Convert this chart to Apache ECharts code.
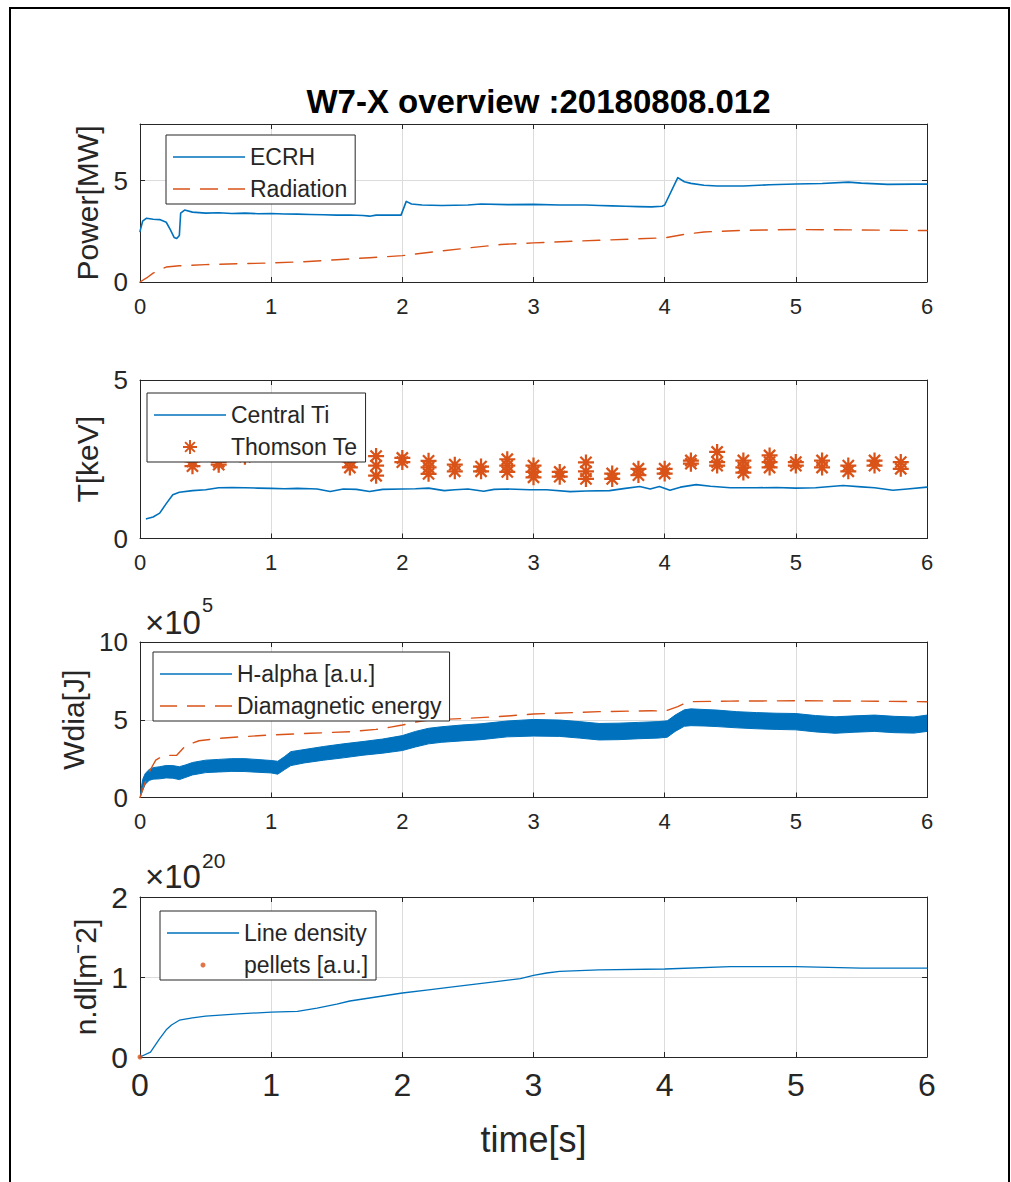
<!DOCTYPE html>
<html>
<head>
<meta charset="utf-8">
<script src="https://cdn.jsdelivr.net/npm/echarts@6/dist/echarts.min.js"></script>
<style>
html,body{margin:0;padding:0;background:#fff;}
#c{width:1011px;height:1182px;}
</style>
</head>
<body>
<div id="c"></div>
<script>
// ---------- data ----------
const titleText = 'W7-X overview :20180808.012';
const xTickLabels = [0, 1, 2, 3, 4, 5, 6];

// Panel 1: Power [MW]  ([time s, value])
const ecrh = [[0,2.5],[0.02,3.0],[0.05,3.15],[0.1,3.1],[0.15,3.08],[0.2,2.95],[0.23,2.6],[0.26,2.2],[0.28,2.15],[0.3,2.3],[0.31,3.4],[0.34,3.55],[0.4,3.45],[0.5,3.4],[0.6,3.42],[0.7,3.38],[0.8,3.4],[0.9,3.37],[1.0,3.38],[1.1,3.36],[1.2,3.35],[1.3,3.33],[1.4,3.32],[1.5,3.3],[1.6,3.31],[1.7,3.28],[1.75,3.25],[1.8,3.3],[1.9,3.3],[1.99,3.3],[2.03,3.98],[2.07,3.85],[2.15,3.8],[2.3,3.78],[2.5,3.8],[2.6,3.85],[2.8,3.82],[3.0,3.83],[3.2,3.8],[3.4,3.8],[3.5,3.78],[3.6,3.76],[3.7,3.74],[3.8,3.72],[3.9,3.71],[3.98,3.74],[4.0,3.8],[4.1,5.15],[4.15,4.95],[4.2,4.87],[4.3,4.78],[4.4,4.74],[4.6,4.74],[4.8,4.8],[5.0,4.84],[5.2,4.86],[5.4,4.93],[5.5,4.88],[5.7,4.82],[5.9,4.83],[6.0,4.83]];
const radiation = [[0,0],[0.05,0.2],[0.1,0.44],[0.2,0.74],[0.3,0.8],[0.5,0.86],[0.75,0.9],[1.0,0.94],[1.25,1.0],[1.5,1.1],[1.75,1.2],[2.0,1.3],[2.25,1.5],[2.5,1.68],[2.75,1.85],[3.0,1.93],[3.25,2.0],[3.5,2.06],[3.75,2.12],[4.0,2.18],[4.15,2.35],[4.3,2.47],[4.6,2.55],[5.0,2.59],[5.5,2.57],[6.0,2.54]];

// Panel 2: T [keV]
const centralTi = [[0.05,0.62],[0.1,0.68],[0.15,0.8],[0.2,1.1],[0.25,1.38],[0.3,1.46],[0.4,1.51],[0.5,1.54],[0.6,1.6],[0.7,1.61],[0.8,1.6],[0.9,1.59],[1.0,1.58],[1.1,1.57],[1.2,1.58],[1.3,1.57],[1.35,1.56],[1.45,1.48],[1.55,1.56],[1.65,1.55],[1.75,1.48],[1.85,1.55],[2.0,1.56],[2.1,1.57],[2.2,1.59],[2.32,1.51],[2.4,1.54],[2.5,1.56],[2.62,1.49],[2.7,1.55],[2.8,1.56],[2.97,1.54],[3.1,1.54],[3.28,1.48],[3.4,1.5],[3.58,1.51],[3.7,1.58],[3.81,1.64],[3.89,1.56],[3.96,1.64],[4.04,1.52],[4.12,1.62],[4.24,1.7],[4.35,1.65],[4.5,1.6],[4.7,1.6],[4.85,1.61],[5.0,1.59],[5.15,1.6],[5.36,1.67],[5.5,1.63],[5.6,1.6],[5.74,1.52],[5.85,1.56],[6.0,1.62]];
const thomsonTe = [[0.4,2.43],[0.4,2.28],[0.6,2.42],[0.6,2.33],[0.8,2.58],[1.6,2.43],[1.6,2.24],[1.8,2.6],[1.8,2.3],[1.8,1.98],[2.0,2.54],[2.0,2.41],[2.2,2.45],[2.2,2.24],[2.2,2.04],[2.4,2.33],[2.4,2.12],[2.6,2.27],[2.6,2.12],[2.8,2.5],[2.8,2.3],[2.8,2.1],[3.0,2.3],[3.0,2.1],[3.0,1.93],[3.2,2.1],[3.2,1.95],[3.4,2.4],[3.4,2.12],[3.4,1.88],[3.6,2.05],[3.6,1.88],[3.8,2.2],[3.8,2.0],[4.0,2.2],[4.0,2.05],[4.2,2.46],[4.2,2.36],[4.4,2.73],[4.4,2.41],[4.4,2.3],[4.6,2.46],[4.6,2.24],[4.6,2.08],[4.8,2.62],[4.8,2.41],[4.8,2.24],[5.0,2.41],[5.0,2.3],[5.2,2.46],[5.2,2.24],[5.4,2.3],[5.4,2.12],[5.6,2.46],[5.6,2.3],[5.8,2.41],[5.8,2.2]];

// Panel 3: Wdia [J], values in units of 1e5.  H-alpha is a noisy band: lower / upper envelope
const hAlphaT     = [0,0.02,0.04,0.07,0.1,0.15,0.2,0.25,0.3,0.35,0.4,0.5,0.6,0.7,0.8,0.9,1.0,1.05,1.1,1.15,1.25,1.4,1.55,1.7,1.85,2.0,2.1,2.2,2.3,2.45,2.6,2.8,3.0,3.2,3.35,3.5,3.65,3.8,3.95,4.02,4.08,4.15,4.2,4.3,4.4,4.55,4.7,4.85,5.0,5.15,5.3,5.45,5.6,5.75,5.9,6.0];
const hAlphaLower = [0,0.45,0.85,1.1,1.18,1.2,1.26,1.24,1.15,1.3,1.45,1.6,1.64,1.68,1.67,1.62,1.58,1.5,1.78,2.05,2.22,2.4,2.55,2.72,2.85,3.02,3.25,3.45,3.55,3.64,3.72,3.9,3.95,3.93,3.82,3.7,3.72,3.78,3.82,3.88,4.25,4.58,4.62,4.6,4.56,4.48,4.42,4.38,4.35,4.22,4.13,4.2,4.25,4.17,4.14,4.25];
const hAlphaUpper = [0.05,1.15,1.55,1.8,1.92,1.98,2.06,2.05,1.98,2.1,2.25,2.4,2.45,2.5,2.5,2.44,2.38,2.33,2.62,2.95,3.08,3.28,3.45,3.6,3.76,3.98,4.25,4.45,4.55,4.66,4.74,4.92,5.02,4.98,4.88,4.76,4.78,4.83,4.88,4.93,5.3,5.64,5.7,5.66,5.62,5.52,5.46,5.42,5.4,5.27,5.19,5.25,5.3,5.22,5.18,5.3];
const diamagnetic = [[0,0],[0.04,1.0],[0.08,1.8],[0.12,2.4],[0.18,2.7],[0.28,2.72],[0.35,3.35],[0.45,3.65],[0.6,3.8],[0.8,3.92],[1.0,4.02],[1.3,4.13],[1.6,4.23],[1.8,4.38],[1.9,4.51],[2.0,4.66],[2.1,4.85],[2.2,4.98],[2.5,5.09],[2.8,5.24],[3.0,5.37],[3.5,5.52],[3.9,5.58],[4.0,5.55],[4.1,5.84],[4.18,6.16],[4.5,6.2],[5.0,6.22],[5.5,6.2],[6.0,6.16]];

// Panel 4: n.dl [m^-2], values in units of 1e20
const lineDensity = [[0,0],[0.08,0.06],[0.15,0.23],[0.2,0.34],[0.24,0.4],[0.3,0.46],[0.4,0.49],[0.5,0.51],[0.75,0.54],[1.0,0.56],[1.2,0.57],[1.35,0.61],[1.5,0.66],[1.6,0.7],[1.8,0.75],[2.0,0.8],[2.2,0.84],[2.4,0.88],[2.7,0.94],[2.9,0.98],[3.0,1.02],[3.1,1.05],[3.2,1.07],[3.5,1.09],[4.0,1.1],[4.5,1.13],[5.0,1.13],[5.5,1.11],[6.0,1.11]];
const pellets = [[0,0]];

// axis ranges / ticks
const yMax = [7.8, 5, 10, 2];
const yInterval = [5, 5, 5, 1];
const yNames = ['Power[MW]', 'T[keV]', 'Wdia[J]', 'n.dl[m\u207B2]'];
const xName = 'time[s]';
const exponents = ['', '', '5', '20'];

// ---------- styling ----------
const FONT = "'Liberation Sans', Arial, Helvetica, sans-serif";
const BLUE = '#0072BD', ORANGE = '#D95319', INK = '#262626', GRID = '#dcdcdc';
const DASH = [17, 11];
const ASTER = 'path://M8.6,0H11.4V20H8.6Z M0,8.6H20V11.4H0Z M4.0,2.0L18.0,16.0L16.0,18.0L2.0,4.0Z M16.0,2.0L18.0,4.0L4.0,18.0L2.0,16.0Z';
const ICON_SOLID = 'path://M0,0H72V1.6H0Z';
const ICON_DASH = 'path://M0,0H17V1.5H0Z M27,0H45V1.5H27Z M55,0H72V1.5H55Z';

const grids = [
  {left:140, top:124, width:787, height:158},
  {left:140, top:380, width:787, height:158.5},
  {left:140, top:642, width:787, height:155.5},
  {left:140, top:897, width:787, height:160}
];

const xAxes = [], yAxes = [];
grids.forEach((g, i) => {
  const big = i === 3;
  xAxes.push({
    type:'value', gridIndex:i, min:0, max:6, interval:1, position:'bottom',
    axisLine:{show:true, onZero:false, lineStyle:{color:INK, width:1}},
    axisTick:{show:true, inside:true, length:5, lineStyle:{color:INK}},
    axisLabel:{show:true, color:INK, fontFamily:FONT, fontSize: big ? 32 : 22, margin: big ? 12 : 13,
      formatter: v => xTickLabels.indexOf(v) >= 0 ? String(v) : ''},
    splitLine:{show:true, lineStyle:{color:GRID, width:1}},
    name: big ? xName : '', nameLocation:'middle', nameGap: 64,
    nameTextStyle:{color:INK, fontFamily:FONT, fontSize:36}
  });
  xAxes.push({
    type:'value', gridIndex:i, min:0, max:6, interval:1, position:'top',
    axisLine:{show:true, onZero:false, lineStyle:{color:INK, width:1}},
    axisTick:{show:true, inside:true, length:5, lineStyle:{color:INK}},
    axisLabel:{show:false}, splitLine:{show:false}
  });
  yAxes.push({
    type:'value', gridIndex:i, min:0, max:yMax[i], interval:yInterval[i], position:'left',
    axisLine:{show:true, onZero:false, lineStyle:{color:INK, width:1}},
    axisTick:{show:true, inside:true, length:5, lineStyle:{color:INK}},
    axisLabel:{show:true, color:INK, fontFamily:FONT, fontSize: big ? 30 : 26, margin:12,
      showMaxLabel: yMax[i] % yInterval[i] === 0,
      formatter: v => (Math.abs(v / yInterval[i] - Math.round(v / yInterval[i])) < 1e-6) ? String(v) : ''},
    splitLine:{show:true, lineStyle:{color:GRID, width:1}},
    name: yNames[i], nameLocation:'middle', nameGap: 38,
    nameTextStyle:{color:INK, fontFamily:FONT, fontSize:30}
  });
  yAxes.push({
    type:'value', gridIndex:i, min:0, max:yMax[i], interval:yInterval[i], position:'right',
    axisLine:{show:true, onZero:false, lineStyle:{color:INK, width:1}},
    axisTick:{show:true, inside:true, length:5, lineStyle:{color:INK}},
    axisLabel:{show:false}, splitLine:{show:false}
  });
});

function lineSeries(name, data, panel, color, width, dashed) {
  return {
    name, type:'line', data, xAxisIndex: panel*2, yAxisIndex: panel*2,
    symbol:'none', smooth:false, animation:false, z:3,
    lineStyle:{color, width, type: dashed ? DASH : 'solid', cap:'round', join:'round'},
    itemStyle:{color}
  };
}

// band series for the noisy H-alpha signal (polygon between envelopes, via axis scales)
const hAlphaData = hAlphaT.map((t, k) => [t, hAlphaLower[k], hAlphaUpper[k]]);
const hAlphaSeries = {
  name:'H-alpha [a.u.]', type:'custom', xAxisIndex:4, yAxisIndex:4, z:3, animation:false,
  data: hAlphaData, encode:{x:0, y:[1, 2]},
  itemStyle:{color:BLUE},
  renderItem: (params, api) => {
    if (params.dataIndex !== 0) return null;
    const n = hAlphaData.length;
    const top = [], bot = [];
    for (let k = 0; k < n; k++) {
      top.push(api.coord([api.value(0, k), api.value(2, k)]));
      bot.push(api.coord([api.value(0, k), api.value(1, k)]));
    }
    const pts = top.concat(bot.reverse());
    const cs = params.coordSys;
    return {
      type:'polygon', shape:{points:pts},
      clipPath:{type:'rect', shape:{x:cs.x, y:cs.y, width:cs.width, height:cs.height}},
      style:{fill:BLUE, stroke:BLUE, lineWidth:1}
    };
  }
};

const series = [
  lineSeries('ECRH', ecrh, 0, BLUE, 1.6, false),
  lineSeries('Radiation', radiation, 0, ORANGE, 1.4, true),
  lineSeries('Central Ti', centralTi, 1, BLUE, 1.6, false),
  {name:'Thomson Te', type:'scatter', data:thomsonTe, xAxisIndex:2, yAxisIndex:2,
   symbol:ASTER, symbolSize:16, itemStyle:{color:ORANGE, opacity:1}, animation:false, z:3},
  hAlphaSeries,
  lineSeries('Diamagnetic energy', diamagnetic, 2, ORANGE, 1.4, true),
  lineSeries('Line density', lineDensity, 3, BLUE, 1.3, false),
  {name:'pellets [a.u.]', type:'scatter', data:pellets, xAxisIndex:6, yAxisIndex:6,
   symbol:'circle', symbolSize:5, itemStyle:{color:ORANGE}, animation:false, z:4}
];

function legend(items, left, top, iconH) {
  return {
    data: items, orient:'vertical', left, top,
    itemWidth:72, itemHeight:iconH, itemGap:6,
    padding:[9, 8, 2, 7], symbolKeepAspect:true,
    backgroundColor:'#ffffff', borderColor:INK, borderWidth:1, borderRadius:0,
    textStyle:{color:INK, fontFamily:FONT, fontSize:23, lineHeight:26},
    selectedMode:false, z:10
  };
}

const option = {
  backgroundColor:'#ffffff',
  animation:false,
  title:{text:titleText, left:533.5, top:80, textAlign:'center',
    textStyle:{color:'#000', fontFamily:FONT, fontSize:33, fontWeight:'bold'}},
  grid: grids.map(g => Object.assign({containLabel:false, show:false}, g)),
  xAxis: xAxes,
  yAxis: yAxes,
  legend: [
    legend([{name:'ECRH', icon:ICON_SOLID}, {name:'Radiation', icon:ICON_DASH}], 166, 135, 14),
    legend([{name:'Central Ti', icon:ICON_SOLID}, {name:'Thomson Te'}], 147, 393, 14),
    legend([{name:'H-alpha [a.u.]', icon:ICON_SOLID}, {name:'Diamagnetic energy', icon:ICON_DASH}], 153, 652, 14),
    legend([{name:'Line density', icon:ICON_SOLID}, {name:'pellets [a.u.]'}], 160, 911, 5)
  ],
  series,
  graphic: [
    {type:'rect', shape:{x:10, y:8, width:999, height:1200}, style:{fill:'none', stroke:'#000', lineWidth:2}, silent:true, z:-1},
    {type:'text', x:145, y:622, style:{text:'\u00D710', fill:INK, font:'33px ' + FONT, verticalAlign:'middle', align:'left'}},
    {type:'text', x:202, y:605, style:{text:exponents[2], fill:INK, font:'20px ' + FONT, verticalAlign:'middle', align:'left'}},
    {type:'text', x:145, y:876, style:{text:'\u00D710', fill:INK, font:'33px ' + FONT, verticalAlign:'middle', align:'left'}},
    {type:'text', x:202, y:860, style:{text:exponents[3], fill:INK, font:'21px ' + FONT, verticalAlign:'middle', align:'left'}}
  ]
};

const chart = echarts.init(document.getElementById('c'), null, {renderer:'svg', width:1011, height:1182});
chart.setOption(option);
</script>
</body>
</html>
